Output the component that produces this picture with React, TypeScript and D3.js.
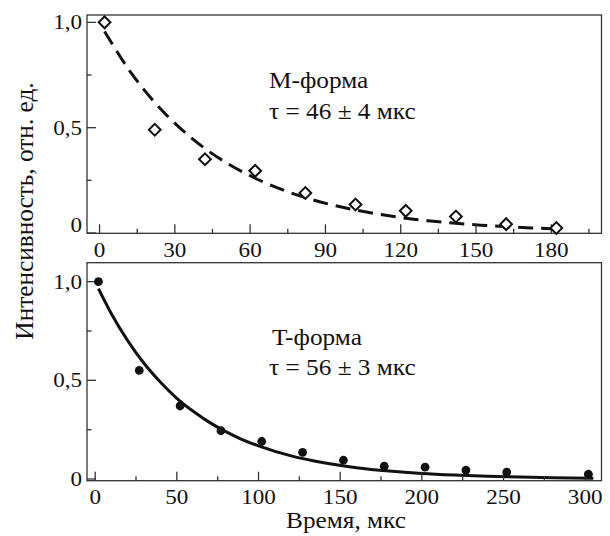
import React from "react";
import * as d3 from "d3";

// ---- data ----
const timeM = [2, 22, 42, 62, 82, 102, 122, 142, 162, 182];
const intensityM = [1.0, 0.49, 0.35, 0.295, 0.19, 0.135, 0.105, 0.078, 0.042, 0.024];
const fitTimeM = [2, 12, 22, 32, 42, 52, 62, 72, 82, 92, 102, 112, 122, 132, 142, 152, 162, 172, 182];
const fitValueM = [0.957, 0.77, 0.62, 0.499, 0.401, 0.323, 0.26, 0.209, 0.168, 0.135, 0.109, 0.088, 0.07, 0.057, 0.046, 0.037, 0.03, 0.024, 0.019];

const timeT = [2, 27, 52, 77, 102, 127, 152, 177, 202, 227, 252, 302];
const intensityT = [1.0, 0.55, 0.37, 0.245, 0.19, 0.135, 0.095, 0.065, 0.06, 0.045, 0.035, 0.024];
const fitTimeT = [2, 10, 20, 30, 40, 50, 60, 70, 80, 90, 100, 120, 140, 160, 180, 200, 220, 240, 260, 280, 305];
const fitValueT = [0.965, 0.836, 0.7, 0.585, 0.49, 0.409, 0.343, 0.287, 0.24, 0.2, 0.168, 0.117, 0.082, 0.057, 0.04, 0.028, 0.02, 0.014, 0.0096, 0.0067, 0.0043];

const xMajorM = [0, 30, 60, 90, 120, 150, 180];
const xMinorM = [15, 45, 75, 105, 135, 165, 195];
const xMajorT = [0, 50, 100, 150, 200, 250, 300];
const xMinorT = [25, 75, 125, 175, 225, 275];
const yMajor = [0, 0.5, 1.0];
const yMajorLabels = ["0", "0,5", "1,0"];
const yMinor = [0.25, 0.75];

const labelM = ["M-форма", "τ = 46 ± 4 мкс"];
const labelT = ["T-форма", "τ = 56 ± 3 мкс"];
const xTitle = "Время, мкс";
const yTitle = "Интенсивность, отн. ед.";

const FONT = "Liberation Serif";
const INK = "#111";
const FRAME = "#333";
const SX = 1.1; // horizontal stretch of the reference's lettering

function T({ x, y, anchor = "start", size, children, dy = 0 }: any) {
  return (
    <text
      transform={`translate(${x},${y}) scale(${SX},1)`}
      textAnchor={anchor}
      dy={dy}
      fontFamily={FONT}
      fontSize={size}
      fill={INK}
    >
      {children}
    </text>
  );
}

function Panel({ x, y, xMajor, xMinor, times, values, fitT, fitV, marker, dashed, label, labelPos, zeroLabelShift, xLabelBaseline }: any) {
  const [x0, x1] = x.range();
  const [y0, y1] = y.range();
  const line = d3
    .line<number>()
    .x((_, i) => x(fitT[i]))
    .y((d) => y(d))
    .curve(d3.curveMonotoneX);
  const diamond = d3.symbol(d3.symbolSquare, 69)()!;
  return (
    <g>
      <path
        d={line(fitV) || ""}
        fill="none"
        stroke={INK}
        strokeWidth={3}
        strokeDasharray={dashed ? "15,8" : undefined}
      />
      <rect x={x0} y={y1} width={x1 - x0} height={y0 - y1} fill="none" stroke={FRAME} strokeWidth={1.3} />
      {xMajor.map((v: number) => (
        <line key={"M" + v} x1={x(v)} x2={x(v)} y1={y0} y2={y0 - 9} stroke={FRAME} strokeWidth={1.3} />
      ))}
      {xMinor.map((v: number) => (
        <line key={"m" + v} x1={x(v)} x2={x(v)} y1={y0} y2={y0 - 4.5} stroke={FRAME} strokeWidth={1.3} />
      ))}
      {xMajor.map((v: number) => (
        <T key={"l" + v} x={x(v)} y={xLabelBaseline} anchor="middle" size={21}>
          {String(v)}
        </T>
      ))}
      {yMajor.map((v: number) => (
        <line key={"YM" + v} x1={x0} x2={x0 + 9} y1={y(v)} y2={y(v)} stroke={FRAME} strokeWidth={1.3} />
      ))}
      {yMinor.map((v: number) => (
        <line key={"Ym" + v} x1={x0} x2={x0 + 4.5} y1={y(v)} y2={y(v)} stroke={FRAME} strokeWidth={1.3} />
      ))}
      {yMajor.map((v: number, i: number) => (
        <T key={"yl" + v} x={x0 - 5} y={y(v) + (v === 0 ? zeroLabelShift : 0)} anchor="end" size={21} dy="0.33em">
          {yMajorLabels[i]}
        </T>
      ))}
      {times.map((t: number, i: number) =>
        marker === "diamond" ? (
          <path
            key={"p" + t}
            d={diamond}
            transform={`translate(${x(t)},${y(values[i])}) rotate(45)`}
            fill="#fff"
            stroke={INK}
            strokeWidth={2}
          />
        ) : (
          <circle key={"p" + t} cx={x(t)} cy={y(values[i])} r={4.4} fill={INK} />
        )
      )}
      <T x={labelPos[0]} y={labelPos[1]} size={23}>{label[0]}</T>
      <T x={labelPos[2]} y={labelPos[3]} size={23}>{label[1]}</T>
    </g>
  );
}

export default function App() {
  const xM = d3.scaleLinear().domain([-5, 200]).range([87, 601.5]);
  const yM = d3.scaleLinear().domain([-0.0015, 1.035]).range([233.3, 15]);
  const xT = d3.scaleLinear().domain([-5, 310]).range([87, 601.5]);
  const yT = d3.scaleLinear().domain([-0.0086, 1.096]).range([480.7, 262.7]);
  return (
    <svg
      width={610}
      height={536}
      fontFamily={FONT}
      style={{ position: "absolute", left: 0, top: 0, background: "#fff" }}
    >
      <style>{`text { font-family: "Liberation Serif", Tinos, Times, serif; }`}</style>
      <rect width={610} height={536} fill="#fff" />
      <Panel
        x={xM}
        y={yM}
        xMajor={xMajorM}
        xMinor={xMinorM}
        times={timeM}
        values={intensityM}
        fitT={fitTimeM}
        fitV={fitValueM}
        marker="diamond"
        dashed
        label={labelM}
        labelPos={[269, 88, 269, 119]}
        zeroLabelShift={-8}
        xLabelBaseline={256.5}
      />
      <Panel
        x={xT}
        y={yT}
        xMajor={xMajorT}
        xMinor={xMinorT}
        times={timeT}
        values={intensityT}
        fitT={fitTimeT}
        fitV={fitValueT}
        marker="dot"
        dashed={false}
        label={labelT}
        labelPos={[272, 345, 269, 375]}
        zeroLabelShift={0}
        xLabelBaseline={503.5}
      />
      <T x={346} y={528} anchor="middle" size={23}>{xTitle}</T>
      <text
        transform={`translate(33,211) rotate(-90)`}
        textAnchor="middle"
        fontFamily={FONT}
        fontSize={25.3}
        fill={INK}
      >
        {yTitle}
      </text>
    </svg>
  );
}
